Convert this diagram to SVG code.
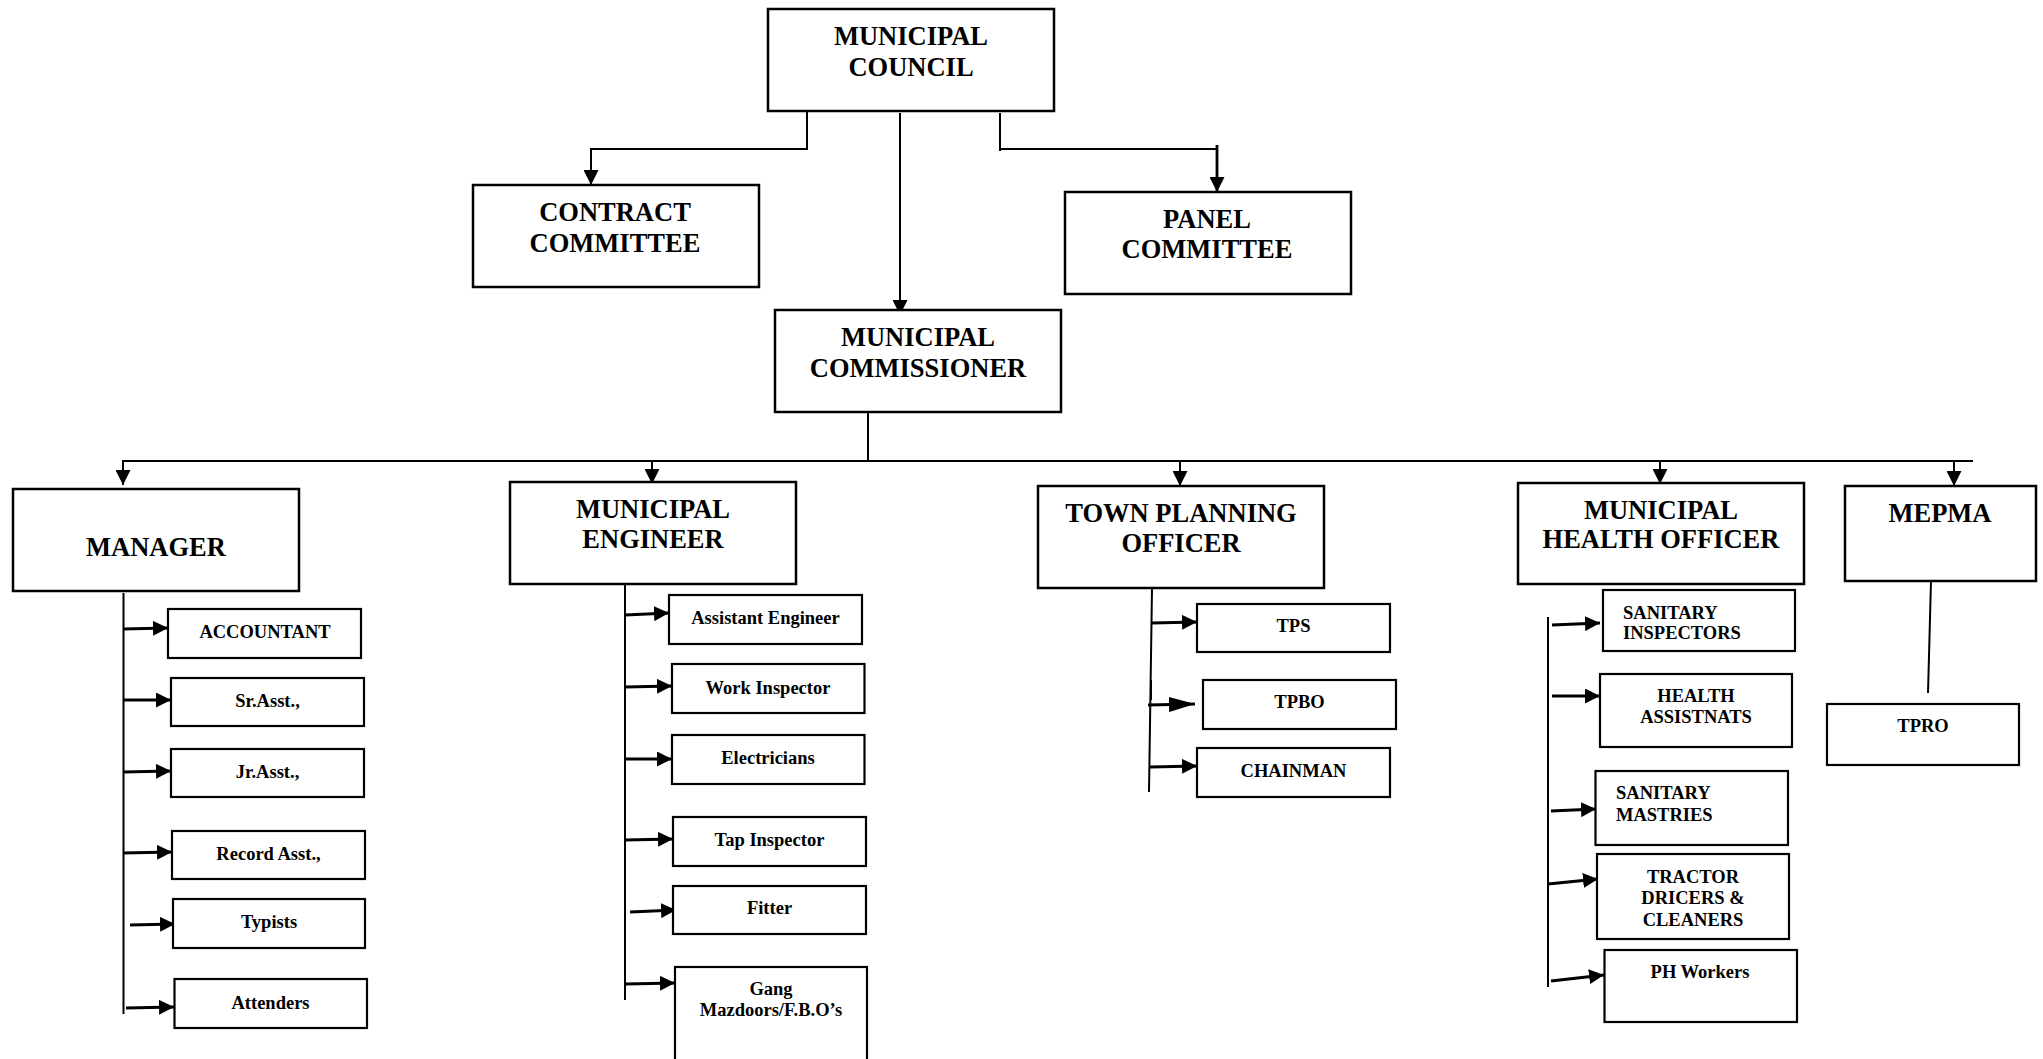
<svg xmlns="http://www.w3.org/2000/svg" width="2043" height="1059" viewBox="0 0 2043 1059">
<style>
  .big rect{fill:#fff;stroke:#000;stroke-width:2.5}
  .sm rect{fill:#fff;stroke:#000;stroke-width:2.2}
  text{font-family:"Liberation Serif","Times New Roman",serif;font-weight:bold;fill:#000}
  .big text{font-size:26.5px;text-anchor:middle}
  .sm text{font-size:18.5px;text-anchor:middle}
  .sm text.l{text-anchor:start}
  .c{fill:none;stroke:#000;stroke-width:2}
  .a{fill:none;stroke:#000;stroke-width:3.2}
</style>
<defs>
  <marker id="ad" viewBox="0 0 15 15" refX="15" refY="7.5" markerWidth="15" markerHeight="15" markerUnits="userSpaceOnUse" orient="auto">
    <path d="M0,0 L15,7.5 L0,15 z" fill="#000"/>
  </marker>
  <marker id="ar" viewBox="0 0 15 15" refX="15" refY="7.5" markerWidth="15" markerHeight="15" markerUnits="userSpaceOnUse" orient="auto">
    <path d="M0,0 L15,7.5 L0,15 z" fill="#000"/>
  </marker>
  <marker id="arl" viewBox="0 0 26 15" refX="26" refY="7.5" markerWidth="26" markerHeight="15" markerUnits="userSpaceOnUse" orient="auto">
    <path d="M0,0 L26,7.5 L0,15 z" fill="#000"/>
  </marker>
</defs>
<rect width="2043" height="1059" fill="#fff"/>

<g id="connectors">
  <path class="c" d="M807,111 V149 H591 V185" marker-end="url(#ad)"/>
  <path class="c" d="M900,113 V315" marker-end="url(#ad)"/>
  <path class="c" d="M1000,113 V151"/>
  <path class="c" d="M1000,149 H1217"/>
  <path class="c" d="M1217,145 V192" style="stroke-width:2.8" marker-end="url(#ad)"/>
  <path class="c" d="M868,412 V461"/>
  <path class="c" d="M122,461 H1973"/>
  <path class="c" d="M123,461 V485" marker-end="url(#ad)"/>
  <path class="c" d="M652,461 V484" marker-end="url(#ad)"/>
  <path class="c" d="M1180,461 V486" marker-end="url(#ad)"/>
  <path class="c" d="M1660,461 V484" marker-end="url(#ad)"/>
  <path class="c" d="M1954,461 V486" marker-end="url(#ad)"/>

  <path class="c" d="M123.5,593 V1014"/>
  <path class="a" d="M123,629 L168,628" marker-end="url(#ar)"/>
  <path class="a" d="M123,700 L171,700" marker-end="url(#ar)"/>
  <path class="a" d="M123,772 L171,771" marker-end="url(#ar)"/>
  <path class="a" d="M123,853 L172,852" marker-end="url(#ar)"/>
  <path class="a" d="M130,925 L175,924" marker-end="url(#ar)"/>
  <path class="a" d="M126,1008 L174,1007" marker-end="url(#ar)"/>

  <path class="c" d="M625,584 V1000"/>
  <path class="a" d="M625,615 L669,613" marker-end="url(#ar)"/>
  <path class="a" d="M625,687 L672,686" marker-end="url(#ar)"/>
  <path class="a" d="M625,759 L672,759" marker-end="url(#ar)"/>
  <path class="a" d="M625,840 L673,839" marker-end="url(#ar)"/>
  <path class="a" d="M630,912 L676,910" marker-end="url(#ar)"/>
  <path class="a" d="M626,984 L675,983" marker-end="url(#ar)"/>

  <path class="c" d="M1152,588 L1149,792"/>
  <path class="c" d="M1151,680 V700"/>
  <path class="a" d="M1152,623 L1197,622" marker-end="url(#ar)"/>
  <path class="a" d="M1148,705 L1195,704" marker-end="url(#arl)"/>
  <path class="a" d="M1150,767 L1197,766" marker-end="url(#ar)"/>

  <path class="c" d="M1548,617 V987"/>
  <path class="a" d="M1552,625 L1600,623" marker-end="url(#ar)"/>
  <path class="a" d="M1552,696 L1600,696" marker-end="url(#ar)"/>
  <path class="a" d="M1551,811 L1596,809" marker-end="url(#ar)"/>
  <path class="a" d="M1548,884 L1598,879" marker-end="url(#ar)"/>
  <path class="a" d="M1551,981 L1604,975" marker-end="url(#ar)"/>

  <path class="c" d="M1931,581 L1928,693"/>
</g>

<g id="council" class="big"><rect x="768" y="9" width="286" height="102"/><text x="911" y="45">MUNICIPAL</text><text x="911" y="76">COUNCIL</text></g>
<g id="contract" class="big"><rect x="473" y="185" width="286" height="102"/><text x="615" y="221">CONTRACT</text><text x="615" y="252">COMMITTEE</text></g>
<g id="panel" class="big"><rect x="1065" y="192" width="286" height="102"/><text x="1207" y="228">PANEL</text><text x="1207" y="258">COMMITTEE</text></g>
<g id="commissioner" class="big"><rect x="775" y="310" width="286" height="102"/><text x="918" y="346">MUNICIPAL</text><text x="918" y="377">COMMISSIONER</text></g>
<g id="manager" class="big"><rect x="13" y="489" width="286" height="102"/><text x="156" y="556">MANAGER</text></g>
<g id="engineer" class="big"><rect x="510" y="482" width="286" height="102"/><text x="653" y="518">MUNICIPAL</text><text x="653" y="548">ENGINEER</text></g>
<g id="tpo" class="big"><rect x="1038" y="486" width="286" height="102"/><text x="1181" y="522">TOWN PLANNING</text><text x="1181" y="552">OFFICER</text></g>
<g id="mho" class="big"><rect x="1518" y="483" width="286" height="101"/><text x="1661" y="519">MUNICIPAL</text><text x="1661" y="548">HEALTH OFFICER</text></g>
<g id="mepma" class="big"><rect x="1845" y="486" width="191" height="95"/><text x="1940" y="522">MEPMA</text></g>

<g id="accountant" class="sm"><rect x="168" y="609" width="193" height="49"/><text x="265" y="638">ACCOUNTANT</text></g>
<g id="srasst" class="sm"><rect x="171" y="678" width="193" height="48"/><text x="267.5" y="707">Sr.Asst.,</text></g>
<g id="jrasst" class="sm"><rect x="171" y="749" width="193" height="48"/><text x="267.5" y="778">Jr.Asst.,</text></g>
<g id="recordasst" class="sm"><rect x="172" y="831" width="193" height="48"/><text x="268.5" y="860">Record Asst.,</text></g>
<g id="typists" class="sm"><rect x="173" y="899" width="192" height="49"/><text x="269" y="928">Typists</text></g>
<g id="attenders" class="sm"><rect x="174.5" y="979" width="192.5" height="49"/><text x="270.5" y="1009">Attenders</text></g>

<g id="asstengineer" class="sm"><rect x="669" y="595" width="193" height="49"/><text x="765.5" y="624">Assistant Engineer</text></g>
<g id="workinspector" class="sm"><rect x="672" y="664" width="192.5" height="49"/><text x="768" y="694">Work Inspector</text></g>
<g id="electricians" class="sm"><rect x="672" y="735" width="192.5" height="49"/><text x="768" y="764">Electricians</text></g>
<g id="tapinspector" class="sm"><rect x="673" y="817" width="193" height="49"/><text x="769.5" y="846">Tap Inspector</text></g>
<g id="fitter" class="sm"><rect x="673" y="886" width="193" height="48"/><text x="769.5" y="914">Fitter</text></g>
<g id="gang" class="sm"><rect x="675" y="967" width="192" height="110"/><text x="771" y="995">Gang</text><text x="771" y="1016">Mazdoors/F.B.O’s</text></g>

<g id="tps" class="sm"><rect x="1197" y="604" width="193" height="48"/><text x="1293.5" y="632">TPS</text></g>
<g id="tpbo" class="sm"><rect x="1203" y="680" width="193" height="49"/><text x="1299.5" y="708">TPBO</text></g>
<g id="chainman" class="sm"><rect x="1197" y="748" width="193" height="49"/><text x="1293.5" y="777">CHAINMAN</text></g>

<g id="saninspectors" class="sm"><rect x="1603" y="590" width="192" height="61"/><text class="l" x="1623" y="619">SANITARY</text><text class="l" x="1623" y="639">INSPECTORS</text></g>
<g id="healthassts" class="sm"><rect x="1600" y="674" width="192" height="73"/><text x="1696" y="702">HEALTH</text><text x="1696" y="723">ASSISTNATS</text></g>
<g id="sanmastries" class="sm"><rect x="1595.5" y="771" width="192.5" height="74"/><text class="l" x="1616" y="799">SANITARY</text><text class="l" x="1616" y="821">MASTRIES</text></g>
<g id="tractor" class="sm"><rect x="1597" y="854" width="192" height="85"/><text x="1693" y="883">TRACTOR</text><text x="1693" y="904">DRICERS &amp;</text><text x="1693" y="926">CLEANERS</text></g>
<g id="phworkers" class="sm"><rect x="1604.5" y="950" width="192.5" height="72"/><text x="1700" y="978">PH Workers</text></g>

<g id="tpro" class="sm"><rect x="1827" y="704" width="192" height="61"/><text x="1923" y="732">TPRO</text></g>
</svg>
